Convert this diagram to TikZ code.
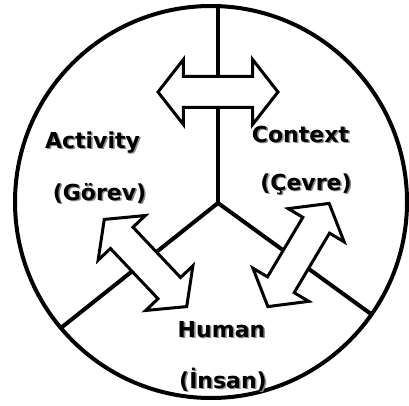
\documentclass[tikz,border=0pt]{standalone}
\usepackage{fontspec}
\setmainfont{DejaVu Sans}
\usetikzlibrary{shapes.arrows}

\begin{document}
\begin{tikzpicture}[
    x=1pt, y=1pt,
    rim/.style={draw, circle, line width=4pt, minimum size=392pt, inner sep=0pt, outer sep=0pt},
    spoke/.style={line width=4pt},
    twoway/.style={draw, double arrow, fill=white, line width=3pt, inner xsep=0pt, inner ysep=14pt,
        minimum height=120pt, double arrow head extend=17pt, double arrow tip angle=104},
    lbl/.style={font=\fontsize{22}{26}\selectfont\bfseries, anchor=base, inner sep=0pt},
    shade/.style={lbl, text=black!45}
]
\useasboundingbox (0,0) rectangle (409,405);

% Circle and the three spokes
\node[rim] (rim) at (211,203) {};
\coordinate (hub) at (218,202);
\draw[spoke] (hub) -- (hub |- rim.north);
\draw[spoke] (hub) -- (rim.220);
\draw[spoke] (hub) -- (rim.325);

% Two-way arrows
\node[twoway] (actctx) at (218,313) {};
\node[twoway, rotate=-46.6] (acthum) at (145.5,142) {};
\node[twoway, rotate=59.3] (ctxhum) at (298.5,150) {};

% Labels with shadow
\foreach \nm/\px/\py/\txt in {act/92.5/257/Activity, gorev/99.5/205/(Görev),
    ctx/300.5/263/Context, cevre/306/215/(Çevre),
    hum/221.5/68/Human, insan/223/17/(İnsan)} {
  \node[shade] (\nm-s) at (\px+1.5,\py-1.5) {\txt};
  \node[lbl] (\nm) at (\px,\py) {\txt};
}

\end{tikzpicture}
\end{document}
